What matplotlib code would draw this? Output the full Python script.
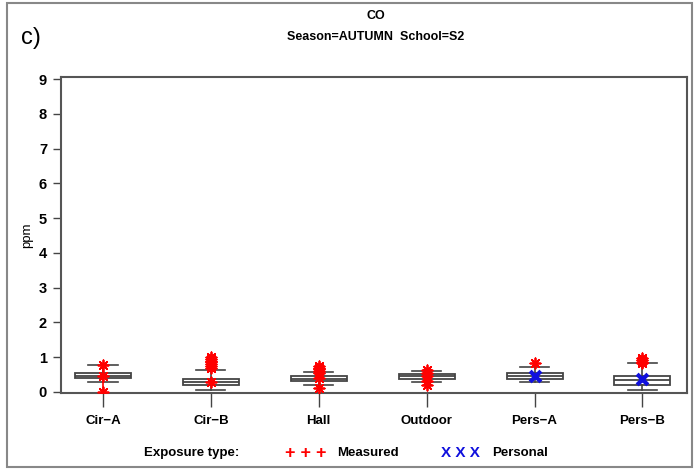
import matplotlib
matplotlib.use('Agg')
import matplotlib.pyplot as plt
from matplotlib.patches import Rectangle

plt.rcParams['font.family'] = ['Liberation Sans', 'DejaVu Sans']
plt.rcParams['font.weight'] = 'bold'

categories = ['Cir\u2212A', 'Cir\u2212B', 'Hall', 'Outdoor', 'Pers\u2212A', 'Pers\u2212B']
q1 = [0.39, 0.19, 0.30, 0.37, 0.37, 0.20]
median = [0.46, 0.29, 0.38, 0.45, 0.46, 0.34]
q3 = [0.54, 0.38, 0.45, 0.52, 0.55, 0.47]
whis_lo = [0.27, 0.06, 0.20, 0.27, 0.27, 0.06]
whis_hi = [0.76, 0.64, 0.57, 0.60, 0.71, 0.82]

measured = [
    [0.01, 0.46, 0.76],
    [0.28, 0.70, 0.75, 0.80, 0.85, 0.90, 0.95, 1.00],
    [0.12, 0.40, 0.55, 0.60, 0.65, 0.70, 0.75],
    [0.20, 0.30, 0.45, 0.55, 0.62],
    [0.82],
    [0.82, 0.87, 0.92, 0.97],
]
personal = [None, None, None, None, 0.47, 0.36]

fig = plt.figure(figsize=(6.96, 4.70), dpi=100)
ax = fig.add_axes([0.0876, 0.164, 0.899, 0.672])

stats = []
for i, name in enumerate(categories):
    stats.append({'label': name, 'q1': q1[i], 'med': median[i], 'q3': q3[i],
                  'whislo': whis_lo[i], 'whishi': whis_hi[i], 'fliers': []})
pos = list(range(1, len(categories) + 1))
ax.bxp(stats, positions=pos, widths=0.52, patch_artist=True, showfliers=False,
       boxprops=dict(facecolor='white', edgecolor='#444444', linewidth=1.3),
       medianprops=dict(color='#444444', linewidth=1.3),
       whiskerprops=dict(color='#444444', linewidth=1.2),
       capprops=dict(color='#444444', linewidth=1.2), capwidths=0.27)

# red line through the Cir-A points
ax.vlines(1, min(measured[0]), max(measured[0]), color='red', lw=1.2, zorder=3)

star = (8, 2, 0)
for i, vals in enumerate(measured):
    ax.scatter([pos[i]] * len(vals), vals, marker=star, s=55, color='red',
               linewidths=1.3, zorder=4)
for i, v in enumerate(personal):
    if v is not None:
        ax.scatter([pos[i]], [v], marker='x', s=60, color='#1010dd',
                   linewidths=3, zorder=5)

ax.set_xlim(0.61, 6.41)
ax.set_ylim(-0.03, 9.06)
ax.set_yticks(range(0, 10))
ax.set_xticks(pos)
ax.set_xticklabels(categories, fontsize=9.5)
ax.tick_params(axis='y', labelsize=10.5, length=6, width=1, color='#444444', pad=4)
ax.tick_params(axis='x', length=10, width=1, color='#444444', pad=6)
ax.get_xticklines()[0].set_color('red')
for s in ax.spines.values():
    s.set_color('#555555')
    s.set_linewidth(1.5)
ax.set_ylabel('ppm', fontsize=9.5, fontweight='normal', labelpad=4)

fig.text(0.540, 0.965, 'CO', ha='center', va='center', fontsize=9)
fig.text(0.540, 0.921, 'Season=AUTUMN  School=S2', ha='center', va='center', fontsize=9)
fig.text(0.030, 0.920, 'c)', ha='left', va='center', fontsize=17, fontweight='normal')

fig.text(0.275, 0.036, 'Exposure type:', ha='center', va='center', fontsize=9.5)
fig.text(0.440, 0.036, '+ + +', ha='center', va='center', fontsize=13, color='red')
fig.text(0.484, 0.036, 'Measured', ha='left', va='center', fontsize=9.5)
fig.text(0.661, 0.036, 'X X X', ha='center', va='center', fontsize=11,
         color='#1010dd')
fig.text(0.707, 0.036, 'Personal', ha='left', va='center', fontsize=9.5)

fig.patches.append(Rectangle((0.010, 0.006), 0.984, 0.988, transform=fig.transFigure,
                             fill=False, edgecolor='#888888', linewidth=1.5))

fig.savefig('out.png', dpi=100)
